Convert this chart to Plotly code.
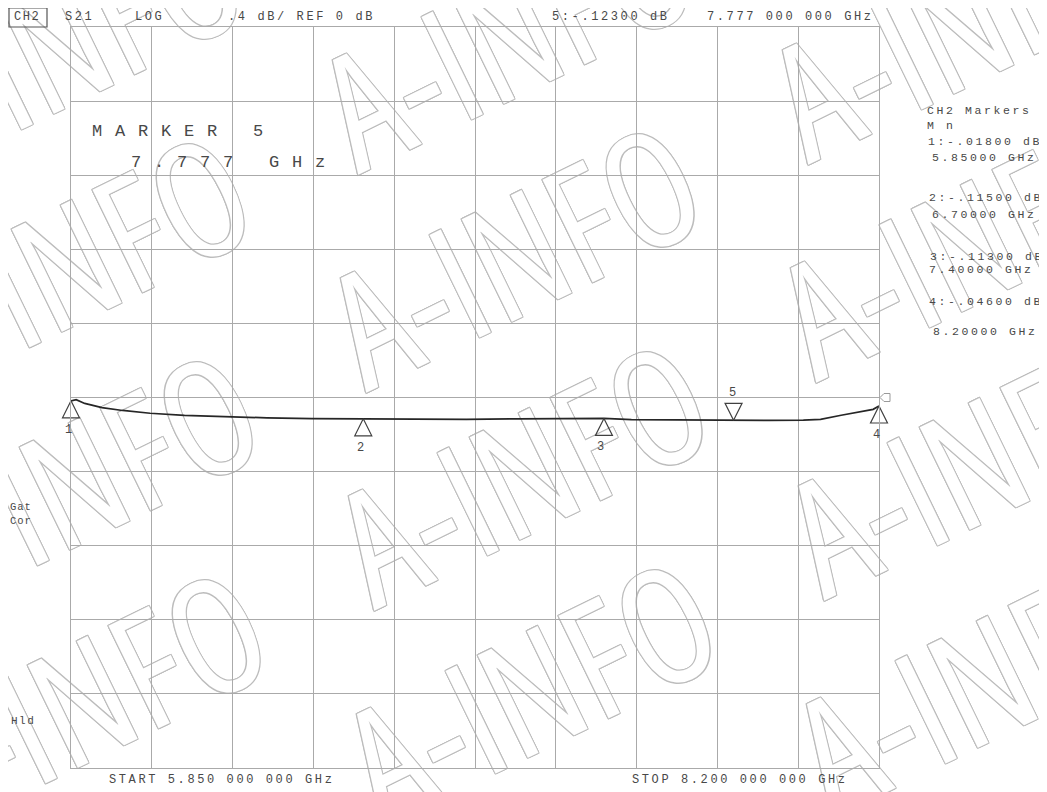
import plotly.graph_objects as go

# ---------------- data ----------------
freq_ghz = [5.850, 5.865, 5.890, 5.940, 6.000, 6.080, 6.180, 6.300, 6.420, 6.550,
            6.700, 6.850, 7.000, 7.150, 7.300, 7.400, 7.480, 7.600, 7.700, 7.777,
            7.880, 7.980, 8.030, 8.090, 8.145, 8.183, 8.200]
s21_db = [-0.018, -0.012, -0.032, -0.055, -0.070, -0.085, -0.096, -0.104, -0.110, -0.114,
          -0.115, -0.118, -0.118, -0.115, -0.114, -0.113, -0.119, -0.121, -0.122, -0.123,
          -0.124, -0.122, -0.118, -0.096, -0.078, -0.064, -0.046]

marker_ids = ["1", "2", "3", "4"]
marker_freq = [5.85, 6.70, 7.40, 8.20]
marker_db = [-0.018, -0.115, -0.113, -0.046]
active_id = "5"
active_freq = 7.777
active_db = -0.123

header_texts = ["S21", "LOG", ".4 dB/ REF 0 dB", "5:-.12300 dB", "7.777 000 000 GHz"]
panel_lines = ["CH2 Markers", "M n", "1:-.01800 dB", "5.85000 GHz", "2:-.11500 dB", "6.70000 GHz",
               "3:-.11300 dB", "7.40000 GHz", "4:-.04600 dB", "8.20000 GHz"]
start_label = "START 5.850 000 000 GHz"
stop_label = "STOP 8.200 000 000 GHz"
watermark = "A-INFO"

# ---------------- geometry (screen pixels; page has an 8px body margin) ----------------
OFF = 8
W, H = 1047 - OFF, 792 - OFF
L, R, T, B = 71, 879, 27, 768
def px(x):
    return (x - L) / (R - L)
def py(y):
    return (B - y) / (B - T)

TXT = "#484848"
GRID = "#aaaaaa"
MONO = "Liberation Mono"

def sp(s, ls):
    return '<span style="letter-spacing:%spx">%s</span>' % (ls, s)

fig = go.Figure()
fig.add_trace(go.Scatter(x=freq_ghz, y=s21_db, mode="lines",
                         line=dict(color="#262626", width=1.7), hoverinfo="skip"))
fig.add_trace(go.Scatter(x=marker_freq, y=marker_db, mode="markers", cliponaxis=False,
                         marker=dict(symbol="arrow-up-open", size=17, color="#404040",
                                     line=dict(color="#404040", width=1.2)),
                         hoverinfo="skip"))
fig.add_trace(go.Scatter(x=[active_freq], y=[active_db], mode="markers", cliponaxis=False,
                         marker=dict(symbol="arrow-down-open", size=17, color="#404040",
                                     line=dict(color="#404040", width=1.2)),
                         hoverinfo="skip"))

shapes = []
annotations = []

# watermark (drawn below grid via shape labels)
wm_shadow = ", ".join("%dpx %dpx 0 #bdbdbd" % (a, b) for a, b in
                      [(1, 0), (-1, 0), (0, 1), (0, -1), (1, 1), (-1, -1), (1, -1), (-1, 1)])
for i in (-1, 0, 1):
    for j in (-1, 0, 1, 2):
        cx = 518 + 450 * i + 8 * j
        cy = 262 - 10 * i + 218 * j
        shapes.append(dict(type="rect", xref="paper", yref="paper", layer="below",
                           x0=px(cx - 5), x1=px(cx + 5), y0=py(cy + 5), y1=py(cy - 5),
                           line=dict(width=0), fillcolor="rgba(0,0,0,0)",
                           label=dict(text='<span style="font-stretch:75%%">%s</span>' % watermark,
                                      textangle=-26, textposition="middle center",
                                      font=dict(family="Open Sans", size=160, color="white",
                                                shadow=wm_shadow))))

# reference level indicator
shapes.append(dict(type="path", xref="paper", yref="y", xsizemode="pixel", ysizemode="pixel",
                   xanchor=1, yanchor=0, path="M1,0 L5,4 L11,4 L11,-4 L5,-4 Z",
                   line=dict(color="#9a9a9a", width=1)))
# CH2 box
shapes.append(dict(type="rect", xref="paper", yref="paper", x0=px(9), x1=px(47), y0=py(27), y1=py(8),
                   line=dict(color="#555555", width=1.2)))

def text(x, y, s, size=12, ls=2.6, anchor="left", family=MONO, color=TXT):
    annotations.append(dict(xref="paper", yref="paper", x=px(x), y=py(y), text=sp(s, ls),
                            showarrow=False, xanchor=anchor, yanchor="middle",
                            font=dict(family=family, size=size, color=color)))

# marker labels
for mid, f, v in zip(marker_ids, marker_freq, marker_db):
    annotations.append(dict(x=f, y=v, xref="x", yref="y", text=mid, showarrow=False,
                            xshift=-3, yshift=-29, xanchor="center", yanchor="middle",
                            font=dict(family=MONO, size=12, color=TXT)))
annotations.append(dict(x=active_freq, y=active_db, xref="x", yref="y", text=active_id, showarrow=False,
                        xshift=-1, yshift=27, xanchor="center", yanchor="middle",
                        font=dict(family=MONO, size=12, color=TXT)))

# header
text(12, 17, "CH2", ls=1.5)
for s, x in zip(header_texts, [63, 133, 226, 550, 705]):
    text(x, 17, s)

# big marker readout
text(90, 131, "MARKER 5", size=17, ls=12.8)
text(129, 162, "7.777 GHz", size=17, ls=12.8)

# right panel
for s, x, y in zip(panel_lines,
                   [925, 925, 926, 930, 927, 930, 928, 927, 927, 931],
                   [111, 125, 141, 157, 198, 214, 256, 269, 302, 331]):
    text(x, y, s, size=11.5, ls=2.6)

# left side status
text(8, 507, "Gat", size=10.5, ls=1)
text(8, 521, "Cor", size=10.5, ls=1)
text(9, 721, "Hld", size=11, ls=1.5)

# bottom
text(107, 780, start_label)
text(630, 780, stop_label)

axis_common = dict(showgrid=True, gridcolor=GRID, gridwidth=1.2, showline=True, linecolor=GRID,
                   linewidth=1.4, mirror=True, ticks="", showticklabels=False, zeroline=False)
fig.update_layout(
    width=W, height=H,
    margin=dict(l=L - OFF, r=W - (R - OFF), t=T - OFF, b=H - (B - OFF), pad=0),
    paper_bgcolor="white", plot_bgcolor="rgba(0,0,0,0)",
    showlegend=False,
    xaxis=dict(range=[5.85, 8.20], tick0=5.85, dtick=0.235, **axis_common),
    yaxis=dict(range=[-2.0, 2.0], tick0=0, dtick=0.4, **axis_common),
    shapes=shapes, annotations=annotations,
)
fig.write_html("out.html")
